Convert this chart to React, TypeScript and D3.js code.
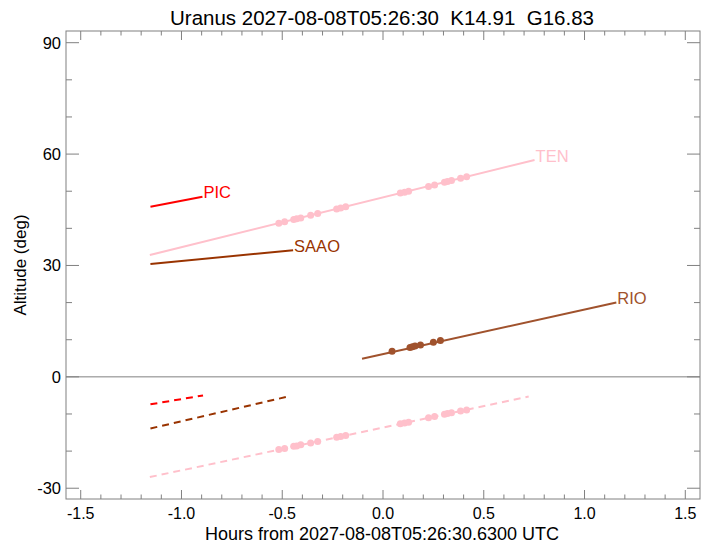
import { useEffect } from 'react';
import * as d3 from 'd3';

// track end points: [hours, altitude deg]
const picSolid: [number, number][] = [[-1.154, 45.8], [-0.896, 48.5]];
const picDash: [number, number][] = [[-1.154, -7.4], [-0.893, -5.0]];
const saaoSolid: [number, number][] = [[-1.154, 30.4], [-0.446, 34.1]];
const saaoDash: [number, number][] = [[-1.154, -13.9], [-0.471, -5.3]];
const tenSolid: [number, number][] = [[-1.157, 32.8], [0.752, 58.4]];
const tenDash: [number, number][] = [[-1.157, -27.0], [0.723, -5.3]];
const rioSolid: [number, number][] = [[-0.104, 4.9], [1.158, 20.0]];

// observation times (hours)
const tenHours = [-0.517, -0.488, -0.443, -0.428, -0.408, -0.359, -0.324, -0.23, -0.21, -0.185,
  0.086, 0.107, 0.127, 0.226, 0.256, 0.305, 0.32, 0.34, 0.385, 0.415];
const tenAlt = [41.4, 41.8, 42.4, 42.6, 42.8, 43.5, 44.0, 45.2, 45.5, 45.8,
  49.5, 49.7, 50.0, 51.3, 51.7, 52.4, 52.6, 52.9, 53.5, 53.9];
const tenAltLow = [-19.6, -19.3, -18.7, -18.6, -18.3, -17.8, -17.4, -16.3, -16.1, -15.8,
  -12.6, -12.4, -12.2, -11.0, -10.7, -10.1, -9.9, -9.7, -9.2, -8.9];
const rioHours = [0.045, 0.134, 0.146, 0.159, 0.186, 0.25, 0.285];
const rioAlt = [6.9, 7.9, 8.1, 8.3, 8.6, 9.3, 9.8];

const xMajor = [-1.5, -1.0, -0.5, 0.0, 0.5, 1.0, 1.5];
const yMajor = [-30, 0, 30, 60, 90];

const title = 'Uranus 2027-08-08T05:26:30  K14.91  G16.83';
const xTitle = 'Hours from 2027-08-08T05:26:30.6300 UTC';
const yTitle = 'Altitude (deg)';

const AXIS = '#808080';
const FONT = '"Liberation Sans", Arial, Helvetica, sans-serif';

export default function App() {
  useEffect(() => {
    document.body.style.margin = '0';
  }, []);

  const width = 710;
  const height = 544;
  const left = 66, right = 700, top = 31, bottom = 499;

  const x = d3.scaleLinear().domain([-1.573, 1.573]).range([left, right]);
  const y = d3.scaleLinear().domain([-32.9, 93.15]).range([bottom, top]);

  const line = d3.line<[number, number]>().x(d => x(d[0])).y(d => y(d[1]));

  const xMinor = d3.range(-15, 16).map(i => i / 10).filter(v => !xMajor.some(m => Math.abs(m - v) < 1e-6));
  const yMinor = d3.range(-30, 91, 10).filter(v => !yMajor.includes(v));

  const tracks = [
    { d: picSolid, color: '#ff0000', dash: null, label: 'PIC' },
    { d: picDash, color: '#ff0000', dash: '7,5', label: null },
    { d: saaoSolid, color: '#993300', dash: null, label: 'SAAO' },
    { d: saaoDash, color: '#993300', dash: '7,5', label: null },
    { d: tenSolid, color: '#ffc0cb', dash: null, label: 'TEN' },
    { d: tenDash, color: '#ffc0cb', dash: '7,5', label: null },
    { d: rioSolid, color: '#a0522d', dash: null, label: 'RIO' },
  ];

  const dots = [
    ...tenHours.map((h, i) => ({ h, a: tenAlt[i], c: '#ffc0cb' })),
    ...tenHours.map((h, i) => ({ h, a: tenAltLow[i], c: '#ffc0cb' })),
    ...rioHours.map((h, i) => ({ h, a: rioAlt[i], c: '#a0522d' })),
  ];

  return (
    <svg width={width} height={height} style={{ display: 'block', background: '#fff' }} fontFamily={FONT}>
      <text x={382} y={25} textAnchor="middle" fontSize={20.5} style={{ whiteSpace: 'pre' }}>{title}</text>

      {/* zero line */}
      <line x1={left} x2={right} y1={y(0)} y2={y(0)} stroke={AXIS} strokeWidth={1} />

      {tracks.map((t, i) => (
        <path key={i} d={line(t.d) || ''} fill="none" stroke={t.color} strokeWidth={2}
          strokeDasharray={t.dash || undefined} />
      ))}
      {dots.map((p, i) => (
        <circle key={i} cx={x(p.h)} cy={y(p.a)} r={3.5} fill={p.c} />
      ))}
      {tracks.filter(t => t.label).map((t, i) => {
        const end = t.d[t.d.length - 1];
        return (
          <text key={i} x={x(end[0]) + 1} y={y(end[1]) + 1.5} fontSize={16.5} fill={t.color}>{t.label}</text>
        );
      })}

      {/* frame */}
      <rect x={left} y={top} width={right - left} height={bottom - top} fill="none" stroke={AXIS} strokeWidth={1} />

      {xMajor.map(v => (
        <g key={'xm' + v} stroke={AXIS}>
          <line x1={x(v)} x2={x(v)} y1={bottom} y2={bottom - 9} />
          <line x1={x(v)} x2={x(v)} y1={top} y2={top + 9} />
        </g>
      ))}
      {xMinor.map(v => (
        <g key={'xn' + v} stroke={AXIS}>
          <line x1={x(v)} x2={x(v)} y1={bottom} y2={bottom - 4.5} />
          <line x1={x(v)} x2={x(v)} y1={top} y2={top + 4.5} />
        </g>
      ))}
      {yMajor.map(v => (
        <g key={'ym' + v} stroke={AXIS}>
          <line x1={left} x2={left + 13} y1={y(v)} y2={y(v)} />
          <line x1={right} x2={right - 13} y1={y(v)} y2={y(v)} />
        </g>
      ))}
      {yMinor.map(v => (
        <g key={'yn' + v} stroke={AXIS}>
          <line x1={left} x2={left + 6} y1={y(v)} y2={y(v)} />
          <line x1={right} x2={right - 6} y1={y(v)} y2={y(v)} />
        </g>
      ))}

      {xMajor.map(v => (
        <text key={'xl' + v} x={x(v)} y={519} textAnchor="middle" fontSize={16}>{v.toFixed(1)}</text>
      ))}
      {yMajor.map(v => (
        <text key={'yl' + v} x={61} y={y(v) + 6} textAnchor="end" fontSize={16.5}>{v}</text>
      ))}

      <text x={382} y={540} textAnchor="middle" fontSize={18}>{xTitle}</text>
      <text transform={`translate(26,${(top + bottom) / 2}) rotate(-90)`} textAnchor="middle" fontSize={17}>{yTitle}</text>
    </svg>
  );
}
